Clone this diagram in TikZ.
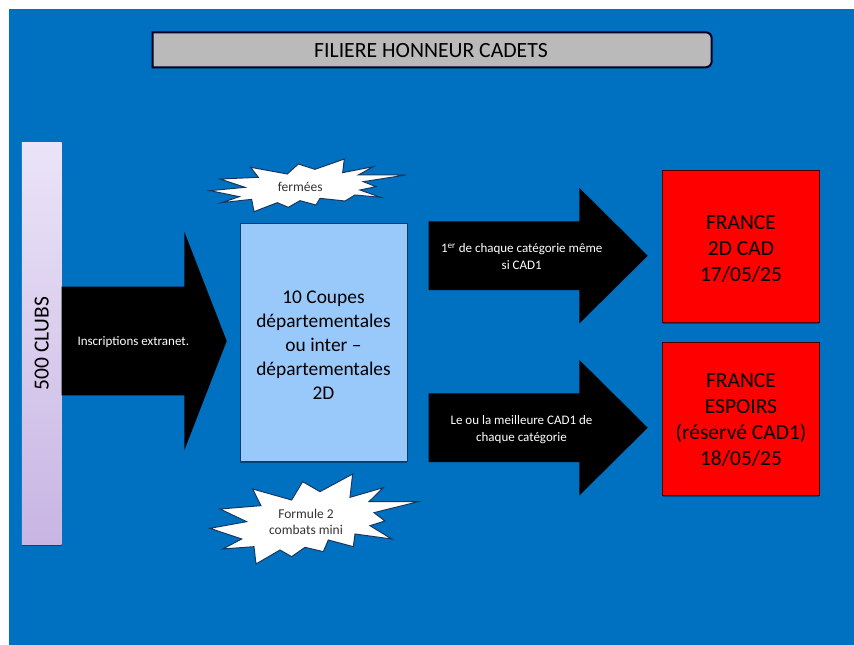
\documentclass[tikz,border=0pt]{standalone}
\usepackage{fontspec}
\setmainfont{Carlito}
\usetikzlibrary{shapes.arrows,shadows}

\definecolor{fondbleu}{HTML}{0070C0}
\definecolor{titregris}{HTML}{BABABA}
\definecolor{coupebleu}{HTML}{99C9FB}
\definecolor{etoiletrait}{HTML}{17375E}
\definecolor{clubhaut}{HTML}{EBE4F8}
\definecolor{clubbas}{HTML}{C8B5E3}

\begin{document}
\begin{tikzpicture}[x=1pt,y=-1pt]
  \tikzset{
    ombre/.style={drop shadow={shadow xshift=0pt,shadow yshift=-1.5pt,opacity=0.35,fill=black}},
    fleche/.style={shape=single arrow,fill=black,inner xsep=0pt,outer sep=0pt,anchor=tip,
      single arrow head indent=0pt},
    petit/.style={text=white,font=\fontsize{13}{16.5}\selectfont,align=center},
    finale/.style={draw=black!70!red,line width=0.5pt,fill=red,minimum width=156.6pt,
      inner sep=0pt,outer sep=0pt,align=center,ombre,font=\fontsize{21.5}{26}\selectfont},
    etoile/.style={draw=etoiletrait,line width=1pt,line join=miter,fill=white},
    note/.style={text=black!80,align=center,font=\fontsize{13.5}{16}\selectfont}
  }

  \useasboundingbox (0,0) rectangle (854,645);
  \fill[fondbleu] (9,9) rectangle (854,645);

  % titre
  \draw[black!85!blue,line width=2pt,fill=titregris,rounded corners=6pt]
    (152.7,67.3) -- (711.7,67.3) -- (711.7,32.3) [sharp corners] -- (152.7,32.3) -- cycle;
  \node[font=\fontsize{21.7}{26}\selectfont] (titre) at (431,50.5) {FILIERE HONNEUR CADETS};

  % clubs
  \node[rotate=90,top color=clubhaut,bottom color=clubbas,minimum width=402.7pt,minimum height=39.7pt,
    inner sep=0pt,outer sep=0pt,ombre,font=\fontsize{21.5}{26}\selectfont] (clubs) at (41.8,343.6) {500 CLUBS};

  % fleches
  \node[fleche,minimum height=165pt,minimum width=218.4pt,inner ysep=54.2pt,single arrow head extend=55pt,
    single arrow tip angle=137.6] (inscription) at (226.7,341) {};
  \node[fleche,minimum height=219.2pt,minimum width=135pt,inner ysep=34.1pt,single arrow head extend=33.4pt,
    single arrow tip angle=89.5] (premier) at (647.7,255.7) {};
  \node[fleche,minimum height=219.2pt,minimum width=135pt,inner ysep=34.1pt,single arrow head extend=33.4pt,
    single arrow tip angle=89.5] (meilleure) at (647.7,427.7) {};
  \node[petit] (inscriptionT) at (133.3,342) {Inscriptions extranet.};
  \node[petit] (premierT) at (521.7,256.5) {1\textsuperscript{er} de chaque catégorie même\\si CAD1};
  \node[petit] (meilleureT) at (521.5,429.5) {Le ou la meilleure CAD1 de\\chaque catégorie};

  % coupes
  \node[draw=etoiletrait,line width=0.6pt,fill=coupebleu,minimum width=167pt,minimum height=238pt,
    inner sep=0pt,outer sep=0pt,align=center,ombre,font=\fontsize{19.4}{24}\selectfont] (coupes) at (323.5,342)
    {\rule{0pt}{18pt}10 Coupes\\départementales\\ou inter --\\départementales\\2D};

  % finales
  \node[finale,minimum height=152.7pt] (france) at (741,246.3) {\rule{0pt}{19pt}FRANCE\\2D CAD\\17/05/25};
  \node[finale,minimum height=152.7pt] (espoirs) at (741,418.7) {\rule{0pt}{17pt}FRANCE\\ESPOIRS\\(réservé CAD1)\\18/05/25};

  % etoiles
  \begin{scope}[shift={(190,140)},scale=.3333]
    \draw[etoile] (182,82) -- (292,102) -- (325,72) -- (375,88) -- (463,57) -- (458,98) -- (550,80)
      -- (505,105) -- (648,105) -- (520,125) -- (558,140) -- (510,150) -- (572,172) -- (495,165)
      -- (465,183) -- (390,175) -- (378,195) -- (330,182) -- (295,202) -- (262,188) -- (192,215)
      -- (185,178) -- (95,188) -- (148,170) -- (60,152) -- (165,142) -- (90,117) -- (205,112) -- cycle;
  \end{scope}
  \node[note] (fermees) at (300.3,187) {fermées};
  \begin{scope}[shift={(190,460)},scale=.3333]
    \draw[etoile] (188,87) -- (305,120) -- (338,65) -- (390,95) -- (488,42) -- (480,112) -- (580,83)
      -- (537,125) -- (685,125) -- (552,158) -- (585,183) -- (540,197) -- (605,237) -- (495,222)
      -- (490,260) -- (415,240) -- (400,275) -- (345,262) -- (305,290) -- (270,270) -- (198,312)
      -- (192,260) -- (98,267) -- (155,237) -- (60,205) -- (170,185) -- (90,147) -- (213,137) -- cycle;
  \end{scope}
  \node[note] (formule) at (306,521.5) {Formule 2\\combats mini};
\end{tikzpicture}
\end{document}
